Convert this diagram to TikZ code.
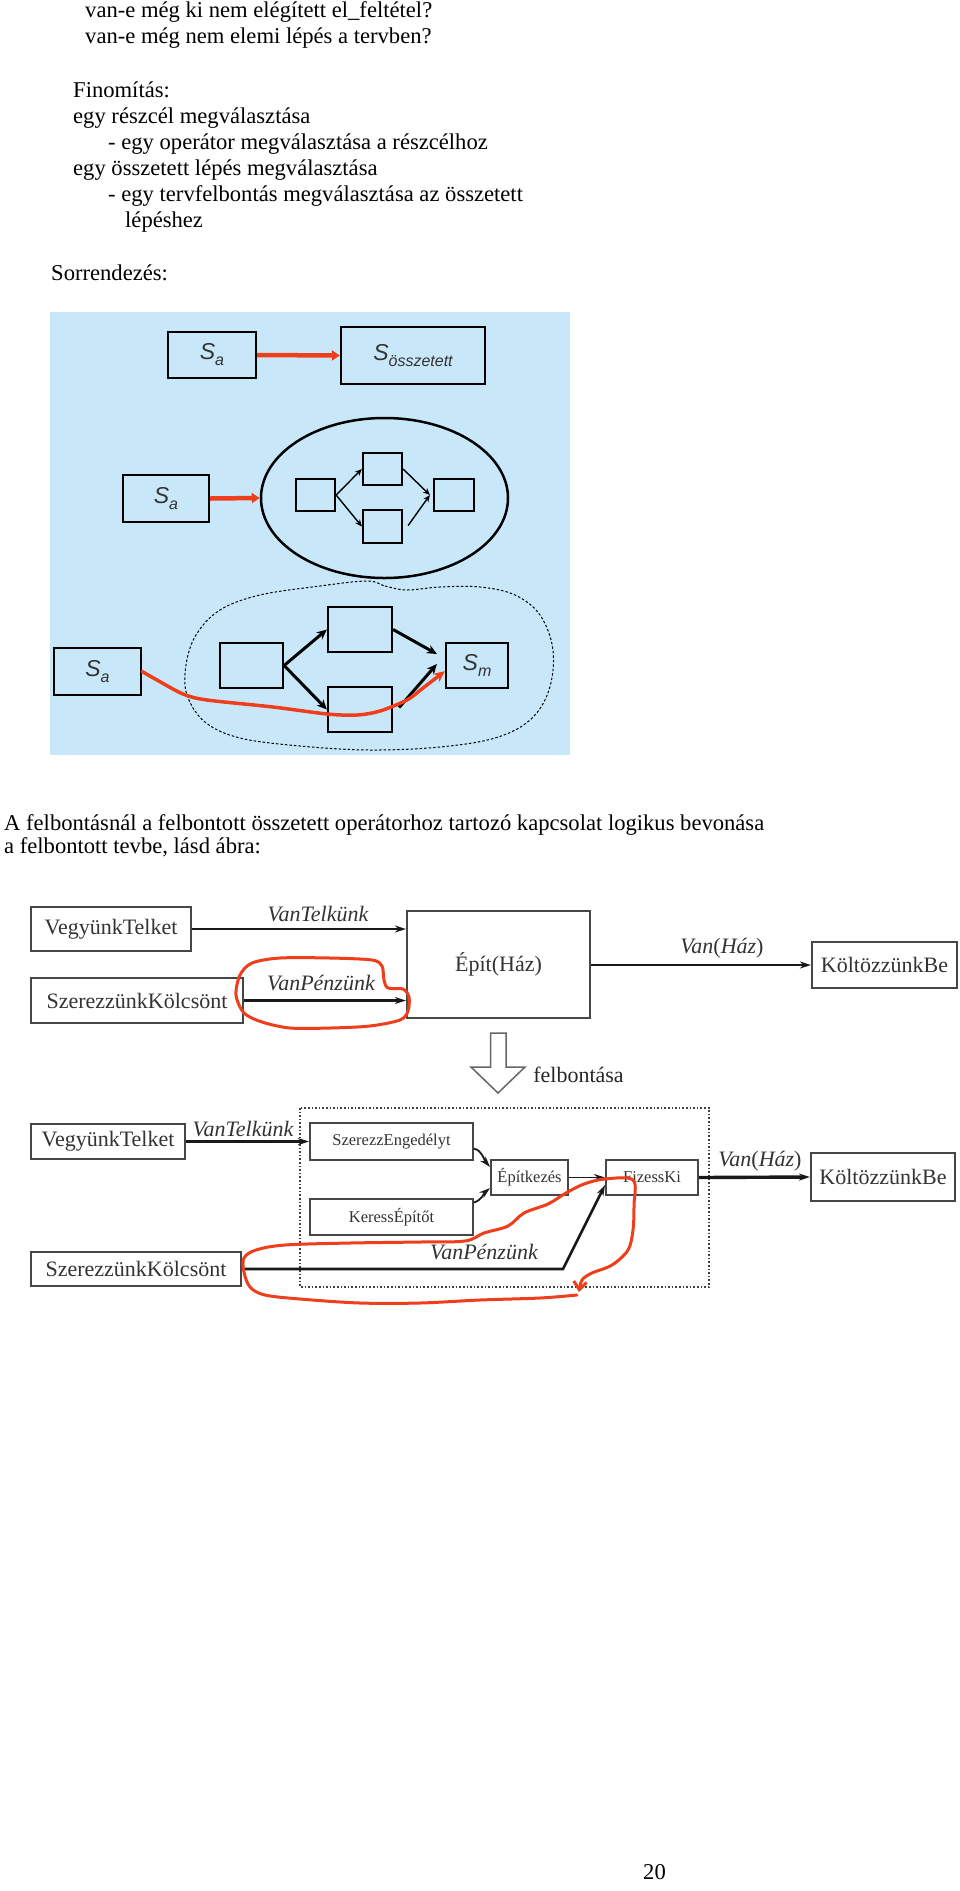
\documentclass[tikz,border=0pt]{standalone}
\usepackage{fontspec}
\setmainfont{Liberation Serif}
\newfontfamily\arialf{Liberation Sans}
\usetikzlibrary{shapes.geometric,arrows.meta,calc}
\definecolor{skyb}{RGB}{200,232,250}
\definecolor{pen}{RGB}{238,62,28}
\definecolor{boxline}{RGB}{70,70,70}
\newcommand\bodyf{\fontsize{22.6}{26}\selectfont}
\newcommand\lblf{\fontsize{22}{24}\selectfont}
\newcommand\smlf{\fontsize{16.5}{18}\selectfont}
\newcommand\SSub[1]{{\arialf\itshape\fontsize{23}{23}\selectfont S\raisebox{-6pt}{\fontsize{16}{16}\selectfont #1}}}
\begin{document}
\begin{tikzpicture}[x=1pt,y=-1pt,
  txt/.style={anchor=base west, inner sep=0pt, font=\bodyf},
  bbox/.style={draw=black, line width=2.2pt, inner sep=0pt, text=black!80},
  lbox/.style={draw=boxline, line width=2.2pt, inner sep=0pt, font=\lblf, text=black!80},
  sbox/.style={draw=boxline, line width=2pt, inner sep=0pt, font=\smlf, text=black!80},
  lab/.style={inner sep=0pt, font=\lblf\itshape, text=black!80},
  redarr/.style={draw=pen, line width=4.5pt, -{Triangle[length=8pt,width=10pt]}},
  redcurve/.style={draw=pen, line width=3.5pt, line cap=round, line join=round},
  penline/.style={draw=pen, line width=3pt, line cap=round, line join=round},
  thinarr/.style={line width=1.4pt, -{Stealth[length=7pt,width=6pt]}},
  thickarr/.style={line width=3pt, -{Stealth[length=10pt,width=9pt]}},
  garr/.style={line width=2.6pt, draw=black!90, -{Stealth[length=11pt,width=7pt]}}
]
\useasboundingbox (0,0) rectangle (960,1891);
\fill[white] (0,0) rectangle (960,1891);

% ---------- top text ----------
\node[txt] (t1) at (85,17) {van-e még ki nem elégített el\_feltétel?};
\node[txt] (t2) at (85,43) {van-e még nem elemi lépés a tervben?};
\node[txt] (t3) at (73,97) {Finomítás:};
\node[txt] (t4) at (73,123) {egy részcél megválasztása};
\node[txt] (t5) at (108,149) {- egy operátor megválasztása a részcélhoz};
\node[txt] (t6) at (73,175) {egy összetett lépés megválasztása};
\node[txt] (t7) at (108,201) {- egy tervfelbontás megválasztása az összetett};
\node[txt] (t8) at (125,227) {lépéshez};
\node[txt] (t9) at (51,280) {Sorrendezés:};

% ---------- blue diagram ----------
\fill[skyb] (50,312) rectangle (570,755);
\node[bbox, minimum width=88pt, minimum height=46pt] (sa1) at (212,355) {\SSub{a}};
\node[bbox, minimum width=144pt, minimum height=57pt] (so) at (413,355.5) {\SSub{összetett}};
\draw[redarr] (sa1.east) -- (so.west);

\node[ellipse, draw=black, line width=2.5pt, minimum width=247pt, minimum height=160pt] (ell) at (384.5,498) {};
\node[bbox, minimum width=86pt, minimum height=47pt] (sa2) at (166,498.5) {\SSub{a}};
\draw[redarr] (sa2.east) -- (ell.west);
\node[bbox, minimum width=39pt, minimum height=32pt] (il) at (315.5,495) {};
\node[bbox, minimum width=39pt, minimum height=32pt] (it) at (382.5,469) {};
\node[bbox, minimum width=39pt, minimum height=33pt] (ib) at (382.5,526.5) {};
\node[bbox, minimum width=40pt, minimum height=32pt] (ir) at (454,495) {};
\draw[thinarr] (il.east) -- (it.west);
\draw[thinarr] (il.east) -- (ib.west);
\draw[thinarr] (it.east) -- ($(ir.west)+(-3,0)$);
\draw[thinarr] ($(ib.east)+(5,-1)$) -- ($(ir.west)+(-3,0)$);

\draw[black, line width=1pt, dash pattern=on 2.5pt off 2pt]
  plot[smooth cycle, tension=0.6] coordinates {(367,581) (385,586) (407,590) (440,587) (480,587) (515,595) (540,615) (553,650) (549,690) (530,720) (495,738) (440,747) (370,750) (300,746) (240,738) (205,722) (187,695) (186,665) (196,635) (220,610) (260,595) (320,586)};
\node[bbox, minimum width=87pt, minimum height=47pt] (sa3) at (97.5,671.5) {\SSub{a}};
\node[bbox, minimum width=63pt, minimum height=45pt] (bl) at (251.5,665.5) {};
\node[bbox, minimum width=64pt, minimum height=45pt] (bt) at (360,629.5) {};
\node[bbox, minimum width=64pt, minimum height=45pt] (bb) at (360,709.5) {};
\node[bbox, minimum width=62pt, minimum height=45pt] (sm) at (477,665.5) {\SSub{m}};
\draw[thickarr] (bl.east) -- (bt.west);
\draw[thickarr] (bl.east) -- (bb.west);
\draw[thickarr] (bt.east) -- ($(sm.west)+(-8,-11.5)$);
\draw[thickarr] ($(bb.east)+(6,-2)$) -- ($(sm.west)+(-8,-1.5)$);
\draw[redcurve, -{Stealth[length=11pt,width=10pt]}] plot[smooth, tension=0.5] coordinates {(sa3.east) (157,680) (183,694) (207,700) (273,707) (327,714) (357,715) (380,711) (407,700) (423,688) (sm.190)};

% ---------- middle text ----------
\node[txt] (t10) at (4,830) {A felbontásnál a felbontott összetett operátorhoz tartozó kapcsolat logikus bevonása};
\node[txt] (t11) at (4,853) {a felbontott tevbe, lásd ábra:};

% ---------- first plan ----------
\node[lbox, minimum width=160pt, minimum height=44pt] (vt1) at (111,929) {VegyünkTelket};
\node[lbox, minimum width=212pt, minimum height=45pt] (sk1) at (137,1000.5) {SzerezzünkKölcsönt};
\node[lbox, minimum width=183pt, minimum height=107pt] (ep) at (498.5,964.5) {Épít(Ház)};
\node[lbox, minimum width=145pt, minimum height=46pt] (kb1) at (884.5,965) {KöltözzünkBe};
\draw[garr] (vt1.east) -- (vt1.east -| ep.west);
\draw[garr] (sk1.east) -- (sk1.east -| ep.west);
\draw[garr] (ep.east |- kb1.west) -- (kb1.west);
\node[lab] (l1) at (318,914) {VanTelkünk};
\node[lab] (l2) at (321,983) {VanPénzünk};
\node[lab] (l3) at (722,948) {Van\textup{(}Ház\textup{)}};
\draw[penline] plot[smooth cycle, tension=0.5] coordinates {(236,995) (240,975) (252,963) (280,958) (330,958) (372,960) (382,966) (384,980) (388,988) (403,989) (409,997) (408,1011) (400,1020) (370,1026) (330,1028) (290,1028) (262,1022) (244,1013)};

% ---------- decomposition arrow ----------
\draw[black!60, line width=1.5pt, fill=white, line join=miter] (490.5,1033) -- (506,1033) -- (506,1067) -- (525,1067) -- (498,1093) -- (471,1067) -- (490.5,1067) -- cycle;
\node[inner sep=0pt, font=\lblf, text=black!85] (fb) at (578.5,1075) {felbontása};

% ---------- second plan ----------
\draw[black!75, line width=1.6pt, dash pattern=on 1.6pt off 2pt] (300,1108) rectangle (709,1287);
\node[lbox, minimum width=154pt, minimum height=35pt] (vt2) at (108,1141.5) {VegyünkTelket};
\node[lbox, minimum width=210pt, minimum height=34pt] (sk2) at (136,1269) {SzerezzünkKölcsönt};
\node[sbox, minimum width=163pt, minimum height=37pt] (seng) at (391.5,1141.5) {SzerezzEngedélyt};
\node[sbox, minimum width=163pt, minimum height=36pt] (ker) at (391.5,1217) {KeressÉpítőt};
\node[sbox, minimum width=77pt, minimum height=35pt] (bau) at (529.5,1177.5) {Építkezés};
\node[sbox, minimum width=92pt, minimum height=35pt] (fiz) at (652,1177.5) {FizessKi};
\node[lbox, minimum width=144pt, minimum height=48pt] (kb2) at (883,1177) {KöltözzünkBe};
\draw[garr] (vt2.east) -- (seng.west);
\draw[garr, line width=1.8pt] (seng.-5) .. controls (482,1150) and (484,1160) .. (bau.165);
\draw[garr, line width=1.8pt] (ker.10) .. controls (482,1200) and (484,1193) .. (bau.195);
\draw[garr, line width=1.8pt] (bau.east) -- (fiz.west);
\draw[garr, line width=3.4pt] (fiz.east) -- (kb2.west);
\coordinate (vpb) at (563,1269);
\draw[garr, line join=miter] (sk2.east) -- (vpb) -- (fiz.189);
\node[lab] (l4) at (243,1129) {VanTelkünk};
\node[lab] (l5) at (760,1161) {Van\textup{(}Ház\textup{)}};
\node[lab] (l6) at (484,1252) {VanPénzünk};
\draw[penline, -{Straight Barb[length=8pt,width=13pt]}] plot[smooth, tension=0.55] coordinates {(577,1295) (540,1298) (480,1300) (420,1303) (360,1303) (300,1299) (265,1295) (250,1287) (244,1272) (244,1258) (256,1250) (285,1245) (350,1243) (420,1242) (465,1241) (484,1233) (508,1226) (524,1213) (548,1204) (566,1193) (584,1184) (605,1179) (633,1180) (634,1205) (633,1230) (628,1250) (612,1265) (592,1273) (582,1280) (579,1292)};

% ---------- page number ----------
\node[txt] (pg) at (643,1879) {20};
\end{tikzpicture}
\end{document}
